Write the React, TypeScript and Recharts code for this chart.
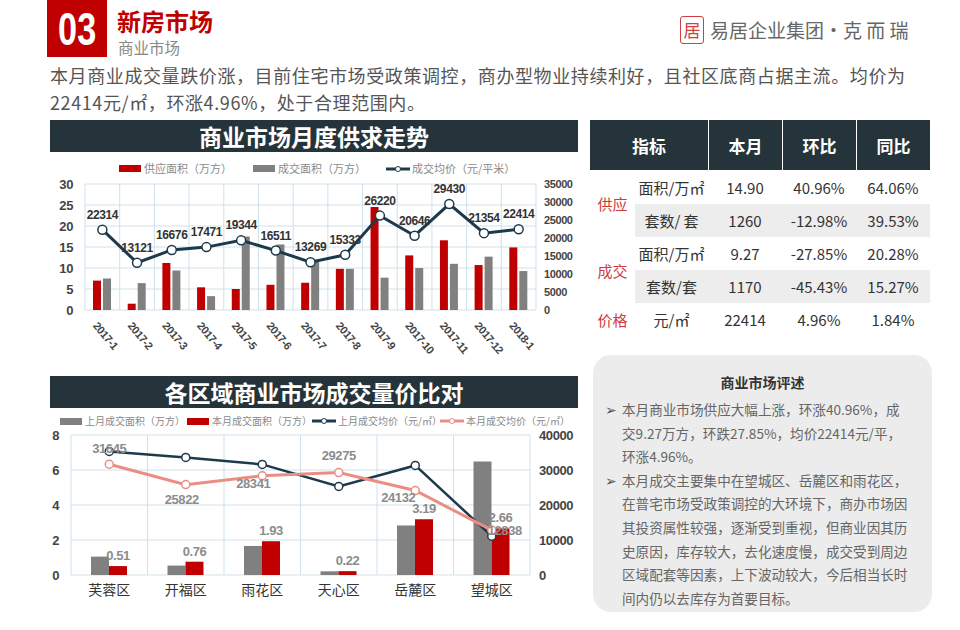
import React from "react";
import {
  ComposedChart,
  Bar,
  Line,
  XAxis,
  YAxis,
  CartesianGrid,
  LabelList,
} from "recharts";

// monthly supply / deal chart
const months = [
  "2017-1", "2017-2", "2017-3", "2017-4", "2017-5", "2017-6", "2017-7",
  "2017-8", "2017-9", "2017-10", "2017-11", "2017-12", "2018-1",
];
const supplyArea = [7, 1.5, 11.2, 5.4, 5, 6, 6.5, 9.8, 24.5, 13, 16.6, 10.7, 14.9];
const dealArea = [7.5, 6.4, 9.4, 3.3, 17.5, 15.6, 12, 9.8, 7.7, 10, 11, 12.7, 9.27];
const dealPrice = [22314, 13121, 16676, 17471, 19344, 16511, 13269, 15333, 26220, 20646, 29430, 21354, 22414];
const areaTicks1 = [0, 5, 10, 15, 20, 25, 30];
const priceTicks1 = [0, 5000, 10000, 15000, 20000, 25000, 30000, 35000];

// district comparison chart
const districts = ["芙蓉区", "开福区", "雨花区", "天心区", "岳麓区", "望城区"];
const lastArea = [1.05, 0.54, 1.66, 0.21, 2.83, 6.48];
const thisArea = [0.51, 0.76, 1.93, 0.22, 3.19, 2.66];
const lastPrice = [35300, 33600, 31600, 25300, 31300, 11100];
const thisPrice = [31645, 25822, 28341, 29275, 24132, 12838];
const areaTicks2 = [0, 2, 4, 6, 8];
const priceTicks2 = [0, 10000, 20000, 30000, 40000];

// summary table
const tableHeaders = ["指标", "本月", "环比", "同比"];
const tableGroups = ["供应", "成交", "价格"];
const tableUnits = ["面积/万㎡", "套数/ 套", "面积/万㎡", "套数/套", "元/㎡"];
const tableMonth = ["14.90", "1260", "9.27", "1170", "22414"];
const tableMoM = ["40.96%", "-12.98%", "-27.85%", "-45.43%", "4.96%"];
const tableYoY = ["64.06%", "39.53%", "20.28%", "15.27%", "1.84%"];

const reviewLines = [
  ["本月商业市场供应大幅上涨，环涨40.96%，成", "交9.27万方，环跌27.85%，均价22414元/平，", "环涨4.96%。"],
  [
    "本月成交主要集中在望城区、岳麓区和雨花区，",
    "在普宅市场受政策调控的大环境下，商办市场因",
    "其投资属性较强，逐渐受到重视，但商业因其历",
    "史原因，库存较大，去化速度慢，成交受到周边",
    "区域配套等因素，上下波动较大，今后相当长时",
    "间内仍以去库存为首要目标。",
  ],
];

const monthlyData = months.map((m, i) => ({
  month: m,
  supply: supplyArea[i],
  deal: dealArea[i],
  price: dealPrice[i],
}));

const districtData = districts.map((d, i) => ({
  name: d,
  lastArea: lastArea[i],
  thisArea: thisArea[i],
  lastPrice: lastPrice[i],
  thisPrice: thisPrice[i],
}));

const FONT = '"Noto Sans CJK SC", "Noto Sans", sans-serif';
const NUM_FONT = '"Liberation Sans", "DejaVu Sans", sans-serif';
const NUM_STYLE = { letterSpacing: -0.4 };
const RED = "#c00000";
const GRAY = "#808080";
const NAVY = "#1d3a4c";
const PINK = "#ec8d84";
const DARK_BAR = "#24343a";
const GRID = "#cfe1ea";

const boundaryLines = (n: number, left: number, width: number) => (props: any) => {
  const l = props?.offset?.left ?? left;
  const w = props?.offset?.width ?? width;
  return Array.from({ length: n + 1 }, (_, i) => l + (w * i) / n);
};

function LegendItem({ x, y, kind, color, label, size }: any) {
  return (
    <div style={{ position: "absolute", left: x, top: y, display: "flex", alignItems: "center", whiteSpace: "nowrap" }}>
      {kind === "bar" ? (
        <div style={{ width: 22, height: 7, background: color, marginRight: 3 }} />
      ) : (
        <svg width={24} height={8} style={{ marginRight: 2 }}>
          <line x1={0} y1={4} x2={24} y2={4} stroke={color} strokeWidth={3} />
          <circle cx={12} cy={4} r={2.5} fill="#fff" stroke={color} strokeWidth={1} />
        </svg>
      )}
      <span style={{ fontSize: size, color: "#8a8a8a", lineHeight: 1 }}>{label}</span>
    </div>
  );
}

function MonthTick({ x, y, payload }: any) {
  return (
    <g transform={`translate(${x - 4},${y + 3})`}>
      <text
        transform="rotate(50)"
        textAnchor="start"
        dy="0.7em"
        fill="#444"
        fontSize={11}
        fontWeight="bold"
        fontFamily={NUM_FONT}
        style={NUM_STYLE}
      >
        {payload.value}
      </text>
    </g>
  );
}

const pinkLabelShift = [
  [0, -15],
  [-4, 16],
  [-9, 9],
  [0, -16],
  [-17, 8],
  [13, 1],
];

function PinkLabel({ x, y, value, index }: any) {
  const [dx, dy] = pinkLabelShift[index] || [0, -12];
  return (
    <text
      x={x + dx}
      y={y + dy}
      textAnchor="middle"
      dominantBaseline="middle"
      fill="#8c8c8c"
      fontSize={13}
      fontWeight="bold"
      fontFamily={NUM_FONT}
      style={NUM_STYLE}
    >
      {value}
    </text>
  );
}

const numTick = (size: number) => ({ fill: "#444", fontSize: size, fontWeight: "bold", fontFamily: NUM_FONT, style: NUM_STYLE });

function MonthlyChart() {
  return (
    <ComposedChart
      width={530}
      height={228}
      data={monthlyData}
      margin={{ top: 32, right: 0, bottom: 20, left: 0 }}
      barGap={2}
    >
      <CartesianGrid
        yAxisId="left"
        stroke={GRID}
        verticalCoordinatesGenerator={boundaryLines(months.length, 35, 451)}
      />
      <XAxis dataKey="month" axisLine={false} tickLine={false} height={50} interval={0} tick={<MonthTick />} />
      <YAxis
        yAxisId="left"
        width={35}
        domain={[0, 30]}
        ticks={areaTicks1}
        interval={0}
        axisLine={false}
        tickLine={false}
        tickMargin={6}
        tick={numTick(13)}
      />
      <YAxis
        yAxisId="right"
        orientation="right"
        width={44}
        domain={[0, 35000]}
        ticks={priceTicks1}
        interval={0}
        axisLine={false}
        tickLine={false}
        tickMargin={2}
        tick={numTick(11)}
      />
      <Bar yAxisId="left" dataKey="supply" fill={RED} barSize={8} isAnimationActive={false} />
      <Bar yAxisId="left" dataKey="deal" fill={GRAY} barSize={8} isAnimationActive={false} />
      <Line
        yAxisId="right"
        dataKey="price"
        stroke={NAVY}
        strokeWidth={3}
        dot={{ r: 4.5, fill: "#fff", stroke: NAVY, strokeWidth: 1.5 }}
        isAnimationActive={false}
      >
        <LabelList
          dataKey="price"
          position="top"
          offset={11}
          fill="#333"
          fontSize={12}
          fontWeight="bold"
          fontFamily={NUM_FONT}
          style={NUM_STYLE}
        />
      </Line>
    </ComposedChart>
  );
}

function DistrictChart() {
  return (
    <ComposedChart
      width={530}
      height={200}
      data={districtData}
      margin={{ top: 25, right: 0, bottom: 0, left: 0 }}
      barGap={0}
    >
      <CartesianGrid
        yAxisId="left"
        stroke={GRID}
        verticalCoordinatesGenerator={boundaryLines(districts.length, 21, 459)}
      />
      <XAxis
        dataKey="name"
        axisLine={false}
        tickLine={false}
        height={35}
        interval={0}
        tickMargin={4}
        tick={{ fill: "#333", fontSize: 14, fontFamily: FONT }}
      />
      <YAxis
        yAxisId="left"
        width={21}
        domain={[0, 8]}
        ticks={areaTicks2}
        interval={0}
        axisLine={false}
        tickLine={false}
        tickMargin={6}
        tick={numTick(13)}
      />
      <YAxis
        yAxisId="right"
        orientation="right"
        width={50}
        domain={[0, 40000]}
        ticks={priceTicks2}
        interval={0}
        axisLine={false}
        tickLine={false}
        tickMargin={3}
        tick={numTick(13)}
      />
      <Bar yAxisId="left" dataKey="lastArea" fill={GRAY} barSize={18} isAnimationActive={false} />
      <Bar yAxisId="left" dataKey="thisArea" fill={RED} barSize={18} isAnimationActive={false}>
        <LabelList
          dataKey="thisArea"
          position="top"
          offset={6}
          fill="#8c8c8c"
          fontSize={13}
          fontWeight="bold"
          fontFamily={NUM_FONT}
          style={NUM_STYLE}
          formatter={(v: any) => Number(v).toFixed(2)}
        />
      </Bar>
      <Line
        yAxisId="right"
        dataKey="lastPrice"
        stroke={NAVY}
        strokeWidth={2.5}
        dot={{ r: 4, fill: "#fff", stroke: NAVY, strokeWidth: 1.5 }}
        isAnimationActive={false}
      />
      <Line
        yAxisId="right"
        dataKey="thisPrice"
        stroke={PINK}
        strokeWidth={3}
        dot={{ r: 4, fill: "#fff", stroke: PINK, strokeWidth: 1.5 }}
        isAnimationActive={false}
      >
        <LabelList dataKey="thisPrice" content={<PinkLabel />} />
      </Line>
    </ComposedChart>
  );
}

function TitleBar({ y, text }: any) {
  return (
    <div
      style={{
        position: "absolute",
        left: 50,
        top: y,
        width: 528,
        height: 32,
        background: DARK_BAR,
        color: "#fff",
        fontSize: 23,
        fontWeight: "bold",
        textAlign: "center",
        lineHeight: "32px",
      }}
    >
      {text}
    </div>
  );
}

function SummaryTable() {
  const cols = [590, 708, 782, 856, 930];
  const rowTops = [170, 204, 237, 270, 303, 336];
  const cell = (x: number, w: number, y: number, h: number, text: string, style: any = {}) => (
    <div
      key={`${x}-${y}-${text}`}
      style={{
        position: "absolute",
        left: x,
        top: y,
        width: w,
        height: h,
        display: "flex",
        alignItems: "center",
        justifyContent: "center",
        fontSize: 15,
        color: "#333",
        ...style,
      }}
    >
      {text}
    </div>
  );
  const groupRows = [
    [0, 2],
    [2, 4],
    [4, 5],
  ];
  return (
    <>
      {tableHeaders.map((h, i) => (
        <div
          key={h}
          style={{
            position: "absolute",
            left: cols[i] + (i > 0 ? 1 : 0),
            top: 120,
            width: cols[i + 1] - cols[i] - (i > 0 ? 1 : 0),
            height: 50,
            background: DARK_BAR,
            color: "#fff",
            fontSize: 17,
            fontWeight: "bold",
            display: "flex",
            alignItems: "center",
            justifyContent: "center",
          }}
        >
          {h}
        </div>
      ))}
      {[1, 3].map((r) => (
        <div
          key={r}
          style={{ position: "absolute", left: 635, top: rowTops[r], width: 295, height: rowTops[r + 1] - rowTops[r], background: "#ededed" }}
        />
      ))}
      {tableGroups.map((g, i) => {
        const [a, b] = groupRows[i];
        return cell(590, 45, rowTops[a], rowTops[b] - rowTops[a], g, { color: "#d0393b", fontSize: 15 });
      })}
      {tableUnits.map((u, r) => cell(635, 73, rowTops[r], rowTops[r + 1] - rowTops[r], u))}
      {tableMonth.map((v, r) => cell(708, 74, rowTops[r], rowTops[r + 1] - rowTops[r], v))}
      {tableMoM.map((v, r) => cell(782, 74, rowTops[r], rowTops[r + 1] - rowTops[r], v))}
      {tableYoY.map((v, r) => cell(856, 74, rowTops[r], rowTops[r + 1] - rowTops[r], v))}
    </>
  );
}

function ReviewBox() {
  let lineNo = 0;
  return (
    <div
      style={{
        position: "absolute",
        left: 593,
        top: 355,
        width: 339,
        height: 257,
        background: "#ececec",
        borderRadius: 18,
      }}
    >
      <div style={{ position: "absolute", left: 0, width: 339, top: 17, textAlign: "center", fontSize: 14, fontWeight: "bold", color: "#333" }}>
        商业市场评述
      </div>
      {reviewLines.map((para, p) =>
        para.map((line, j) => {
          const top = 44 + lineNo * 23.6;
          lineNo += 1;
          return (
            <div key={`${p}-${j}`} style={{ position: "absolute", left: 12, top, whiteSpace: "nowrap", fontSize: 13.6, color: "#666", lineHeight: "20px" }}>
              <span style={{ display: "inline-block", width: 17, color: "#555" }}>{j === 0 ? "➢" : ""}</span>
              {line}
            </div>
          );
        })
      )}
    </div>
  );
}

export default function App() {
  return (
    <div
      style={{
        position: "absolute",
        left: 0,
        top: 0,
        width: 960,
        height: 630,
        background: "#fff",
        overflow: "hidden",
        fontFamily: FONT,
      }}
    >
      {/* header */}
      <div
        style={{
          position: "absolute",
          left: 47,
          top: 0,
          width: 60,
          height: 57,
          background: RED,
          display: "flex",
          alignItems: "center",
          justifyContent: "center",
        }}
      >
        <span
          style={{
            display: "inline-block",
            color: "#fff",
            fontFamily: NUM_FONT,
            fontWeight: "bold",
            fontSize: 38,
            lineHeight: 1,
            transform: "scale(0.9, 1.2)",
          }}
        >
          03
        </span>
      </div>
      <div style={{ position: "absolute", left: 117, top: 8, fontSize: 24, fontWeight: "bold", color: RED, lineHeight: "26px" }}>新房市场</div>
      <div style={{ position: "absolute", left: 118, top: 39, fontSize: 15.5, color: "#888", lineHeight: "16px" }}>商业市场</div>
      <div
        style={{
          position: "absolute",
          left: 680,
          top: 16,
          width: 24,
          height: 28,
          border: "1.5px solid #d04040",
          borderRadius: 3,
          color: "#d04040",
          fontSize: 17,
          lineHeight: "25px",
          textAlign: "center",
          boxSizing: "border-box",
        }}
      >
        居
      </div>
      <div style={{ position: "absolute", left: 710, top: 18, fontSize: 19, color: "#666", lineHeight: "24px", whiteSpace: "nowrap" }}>
        易居企业集团·克 而 瑞
      </div>
      <div style={{ position: "absolute", left: 50, top: 62, fontSize: 18, letterSpacing: 0.6, color: "#555", lineHeight: "27px", whiteSpace: "nowrap" }}>
        本月商业成交量跌价涨，目前住宅市场受政策调控，商办型物业持续利好，且社区底商占据主流。均价为
        <br />
        22414元/㎡，环涨4.96%，处于合理范围内。
      </div>

      {/* top-left chart */}
      <TitleBar y={120} text="商业市场月度供求走势" />
      <LegendItem x={119} y={163} kind="bar" color={RED} label="供应面积（万方）" size={11} />
      <LegendItem x={253} y={163} kind="bar" color={GRAY} label="成交面积（万方）" size={11} />
      <LegendItem x={386} y={163} kind="line" color={NAVY} label="成交均价（元/平米）" size={11} />
      <div style={{ position: "absolute", left: 50, top: 152 }}>
        <MonthlyChart />
      </div>

      {/* table */}
      <SummaryTable />

      {/* bottom-left chart */}
      <TitleBar y={376} text="各区域商业市场成交量价比对" />
      <LegendItem x={60} y={416} kind="bar" color={GRAY} label="上月成交面积（万方）" size={10} />
      <LegendItem x={187} y={416} kind="bar" color={RED} label="本月成交面积（万方）" size={10} />
      <LegendItem x={312} y={416} kind="line" color={NAVY} label="上月成交均价（元/㎡）" size={10} />
      <LegendItem x={440} y={416} kind="line" color={PINK} label="本月成交均价（元/㎡）" size={10} />
      <div style={{ position: "absolute", left: 50, top: 410 }}>
        <DistrictChart />
      </div>

      <ReviewBox />
    </div>
  );
}
